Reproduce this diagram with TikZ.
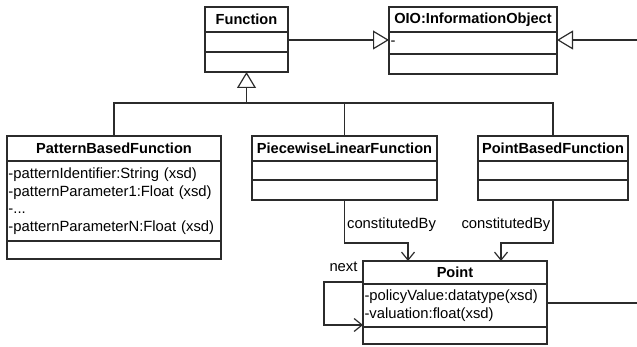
\documentclass[tikz,border=0pt]{standalone}
\usepackage{fontspec}
\setmainfont{Liberation Sans}
\usetikzlibrary{arrows.meta}
\definecolor{umlline}{gray}{0.17}
\tikzset{
	classhead/.style={draw=umlline, line width=1.2pt, rectangle, anchor=north west, inner sep=0pt, outer sep=0pt, font=\fontsize{14.6}{17.5}\selectfont\bfseries},
	classpart/.style={draw=umlline, line width=1.2pt, rectangle, anchor=north, inner xsep=1.5pt, inner ysep=0pt, outer sep=0pt, align=left},
	inherit/.style={draw=umlline, line width=1.2pt, -{Triangle[open, length=16pt, width=19pt]}},
	assoc/.style={draw=umlline, line width=1.2pt, -{Straight Barb[length=8pt, width=13pt]}},
	plain/.style={draw=umlline, line width=1.2pt},
}
% name, x, y, width, title, h title, h attributes, h operations, attributes
\newcommand{\classBox}[9]{
	\pgfmathsetmacro{\cbw}{#4-3}
	\path (#2,#3) node[classhead, minimum width=#4pt, minimum height=#6pt](#1){#5};
	\path (#1.south) node[classpart, text width=\cbw pt, minimum height=#7pt](#1-attr){#9};
	\path (#1-attr.south) node[classpart, text width=\cbw pt, minimum height=#8pt](#1-ops){};
}

\begin{document}
\begin{tikzpicture}[x=1pt, y=-1pt, font=\fontsize{14.8}{17.5}\selectfont]
	\useasboundingbox (0,0) rectangle (637,347);

	\classBox{fn}{205}{7}{83}{Function}{25}{20}{20}{};
	\classBox{oio}{389}{7}{168}{OIO:InformationObject}{25}{22}{20}{-};
	\classBox{pat}{7}{136}{214}{PatternBasedFunction}{25}{80}{18}{-patternIdentifier:String (xsd)\\-patternParameter1:Float (xsd)\\-...\\-patternParameterN:Float (xsd)};
	\classBox{plf}{252}{136}{185}{PiecewiseLinearFunction}{25}{19}{20}{};
	\classBox{ptb}{478}{136}{150}{PointBasedFunction}{25}{19}{20}{};
	\classBox{pt}{363}{261}{184}{Point}{23}{43}{17}{-policyValue:datatype(xsd)\\-valuation:float(xsd)};

	\coordinate (bus) at (fn.south |- 0,103);
	\coordinate (oioIn) at (637,40);
	\coordinate (ptOut) at (637,303);

	\draw[inherit] (bus) -- (fn-ops.south);
	\draw[plain] (pat.north) |- (bus) -| (ptb.north);
	\draw[plain] (plf.north) -- (plf.north |- bus);

	\draw[inherit] (fn-attr.east |- oioIn) -- (oio-attr.west |- oioIn);
	\draw[inherit] (oioIn) -- (oio-attr.east |- oioIn);

	\draw[assoc] (plf-ops.south) -- ++(0,43) node[pos=0.58, right, inner sep=2pt]{constitutedBy} -| ([xshift=-47pt]pt.north);
	\draw[assoc] (ptb-ops.south) -- ++(0,43) node[pos=0.58, left, inner sep=2pt]{constitutedBy} -| ([xshift=46pt]pt.north);

	\draw[assoc] ([yshift=2pt]pt-attr.north west) -- ++(-39,0) node[midway, above=6pt]{next} |- ([yshift=2pt]pt-attr.south west);
	\draw[plain] (pt-attr.east |- ptOut) -- (ptOut);
\end{tikzpicture}
\end{document}
